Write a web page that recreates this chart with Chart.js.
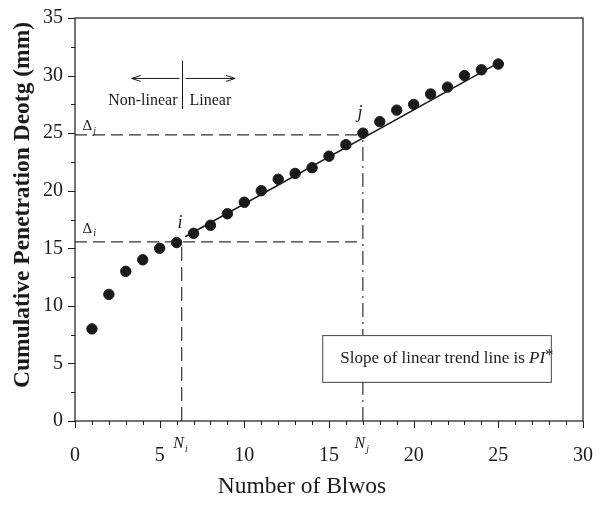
<!DOCTYPE html>
<html>
<head>
<meta charset="utf-8">
<script src="https://cdn.jsdelivr.net/npm/chart.js@4/dist/chart.umd.min.js"></script>
<style>
  body { margin: 0; background: #fff; }
  canvas { display: block; }
</style>
</head>
<body>
<canvas id="blowChart" width="609" height="507"></canvas>
<script>
// blow count vs cumulative penetration
const blows = [1, 2, 3, 4, 5, 6, 7, 8, 9, 10, 11, 12, 13, 14, 15, 16, 17, 18, 19, 20, 21, 22, 23, 24, 25];
const penetration = [8, 11, 13, 14, 15, 15.5, 16.3, 17, 18, 19, 20, 21, 21.5, 22, 23, 24, 25, 26, 27, 27.5, 28.4, 29, 30, 30.5, 31];

// linear trend line end points
const trendX = [6.5, 25];
const trendY = [16.0, 31.1];

// i / j reference values
const nI = 6.3, nJ = 17;
const deltaI = 15.55, deltaJ = 24.85;

const xTicks = [0, 5, 10, 15, 20, 25, 30];
const yTicks = [0, 5, 10, 15, 20, 25, 30, 35];

const SERIF = "'Liberation Serif', 'Times New Roman', serif";
const INK = '#1a1a1a';

function pts(xs, ys) {
  return xs.map((x, k) => ({ x: x, y: ys[k] }));
}

const guideStyle = {
  type: 'line', showLine: true, pointRadius: 0, borderWidth: 1.2,
  borderColor: '#333', fill: false
};

// ticks, frame and all the text bits
const extras = {
  id: 'extras',
  afterDraw(chart) {
    const c = chart.ctx;
    const xs = chart.scales.x, ys = chart.scales.y;
    const a = chart.chartArea;
    const X = v => xs.getPixelForValue(v);
    const Y = v => ys.getPixelForValue(v);
    c.save();
    c.strokeStyle = INK;
    c.lineWidth = 1.2;
    c.strokeRect(a.left, a.top, a.right - a.left, a.bottom - a.top);

    c.lineWidth = 1;
    c.beginPath();
    for (let v = 0; v <= 30; v++) {
      const len = v % 5 === 0 ? 7 : 4;
      c.moveTo(Math.round(X(v)) + 0.5, a.bottom);
      c.lineTo(Math.round(X(v)) + 0.5, a.bottom + len);
    }
    for (let v = 0; v <= 35; v += 2.5) {
      const len = v % 5 === 0 ? 7 : 4;
      c.moveTo(a.left, Math.round(Y(v)) + 0.5);
      c.lineTo(a.left - len, Math.round(Y(v)) + 0.5);
    }
    c.stroke();

    // summary box (covers the j guide)
    const bx = X(14.6), by = Y(7.46), bw = X(28.1) - X(14.6), bh = Y(3.4) - Y(7.46);
    c.fillStyle = '#fff';
    c.fillRect(bx, by, bw, bh);
    c.strokeStyle = '#444';
    c.strokeRect(bx + 0.5, by + 0.5, bw, bh);
    c.fillStyle = INK;
    c.textBaseline = 'middle';
    c.textAlign = 'left';
    c.font = '17px ' + SERIF;
    const line = 'Slope of linear trend line is ';
    const ty = by + bh / 2;
    let tx = bx + 18;
    c.fillText(line, tx, ty);
    tx += c.measureText(line).width;
    c.font = 'italic 17px ' + SERIF;
    c.fillText('PI', tx, ty);
    tx += c.measureText('PI').width;
    c.font = '17px ' + SERIF;
    c.fillText('*', tx, ty - 3);

    // non-linear / linear split
    c.strokeStyle = INK;
    c.lineWidth = 1;
    const sx = Math.round(X(nI)) + 0.5;
    const ay = Y(29.75);
    c.beginPath();
    c.moveTo(sx, Y(31.3)); c.lineTo(sx, Y(27.1));
    c.moveTo(sx - 3, ay); c.lineTo(X(3.35), ay);
    c.moveTo(X(3.35) + 9, ay - 3); c.lineTo(X(3.35), ay); c.lineTo(X(3.35) + 9, ay + 3);
    c.moveTo(sx + 3, ay); c.lineTo(X(9.45), ay);
    c.moveTo(X(9.45) - 9, ay - 3); c.lineTo(X(9.45), ay); c.lineTo(X(9.45) - 9, ay + 3);
    c.stroke();
    c.font = '16px ' + SERIF;
    c.textAlign = 'right';
    c.fillText('Non-linear', sx - 5, Y(27.85));
    c.textAlign = 'left';
    c.fillText('Linear', sx + 7, Y(27.85));

    // point markers i, j
    c.font = 'italic 18px ' + SERIF;
    c.textAlign = 'center';
    c.fillText('i', X(6.2), Y(17.2));
    c.fillText('j', X(16.83), Y(26.7));

    // delta labels
    const sub = (main, s, x, y) => {
      c.textAlign = 'left';
      c.font = '15px ' + SERIF;
      c.fillText(main, x, y);
      const w = c.measureText(main).width;
      c.font = 'italic 10px ' + SERIF;
      c.fillText(s, x + w + 1, y + 5);
    };
    sub('\u0394', 'i', X(0.45), Y(16.7));
    sub('\u0394', 'j', X(0.45), Y(25.6));

    // N labels under the axis
    c.fillStyle = INK;
    c.textAlign = 'left';
    const nLab = (s, v) => {
      c.font = 'italic 16px ' + SERIF;
      const w = c.measureText('N').width;
      const x0 = X(v) - w / 2 - 3;
      c.fillText('N', x0, 444);
      c.font = 'italic 10px ' + SERIF;
      c.fillText(s, x0 + w + 1, 449);
    };
    nLab('i', nI);
    nLab('j', nJ);

    // axis titles
    c.font = '23.5px ' + SERIF;
    c.textAlign = 'center';
    c.fillText('Number of Blwos', 302, 487);
    c.save();
    c.translate(23, 205);
    c.rotate(-Math.PI / 2);
    c.font = 'bold 23.5px ' + SERIF;
    c.fillText('Cumulative Penetration Deotg (mm)', 0, 0);
    c.restore();
    c.restore();
  }
};

const ctx = document.getElementById('blowChart').getContext('2d');
const blowChart = new Chart(ctx, {
  type: 'scatter',
  data: {
    datasets: [
      Object.assign({}, guideStyle, { data: pts([0, nJ], [deltaI, deltaI]), borderDash: [12, 6] }),
      Object.assign({}, guideStyle, { data: pts([0, nJ], [deltaJ, deltaJ]), borderDash: [12, 6] }),
      Object.assign({}, guideStyle, { data: pts([nI, nI], [0, deltaI]), borderDash: [14, 6] }),
      Object.assign({}, guideStyle, { data: pts([nJ, nJ], [0, deltaJ]), borderDash: [14, 5, 2, 5] }),
      {
        type: 'line', showLine: true, pointRadius: 0, borderWidth: 1.5,
        borderColor: INK, data: pts(trendX, trendY)
      },
      {
        label: 'Penetration',
        data: pts(blows, penetration),
        pointRadius: 5.2,
        pointHoverRadius: 5.2,
        backgroundColor: INK,
        borderColor: INK
      }
    ]
  },
  options: {
    responsive: false,
    animation: false,
    layout: { padding: { top: 18, right: 26, left: 0, bottom: 0 } },
    plugins: { legend: { display: false }, tooltip: { enabled: false } },
    scales: {
      x: {
        type: 'linear', min: 0, max: 30,
        afterBuildTicks: s => { s.ticks = xTicks.map(v => ({ value: v })); },
        afterFit: s => { s.height = 86; s.paddingLeft = 0; s.paddingRight = 0; },
        grid: { display: false, drawTicks: false },
        border: { display: false },
        ticks: { padding: 23, color: INK, font: { family: SERIF, size: 20 } }
      },
      y: {
        type: 'linear', min: 0, max: 35,
        afterBuildTicks: s => { s.ticks = yTicks.map(v => ({ value: v })); },
        afterFit: s => { s.width = 75; s.paddingTop = 0; s.paddingBottom = 0; },
        grid: { display: false, drawTicks: false },
        border: { display: false },
        ticks: { padding: 12, color: INK, font: { family: SERIF, size: 20 } }
      }
    }
  },
  plugins: [extras]
});
</script>
</body>
</html>
